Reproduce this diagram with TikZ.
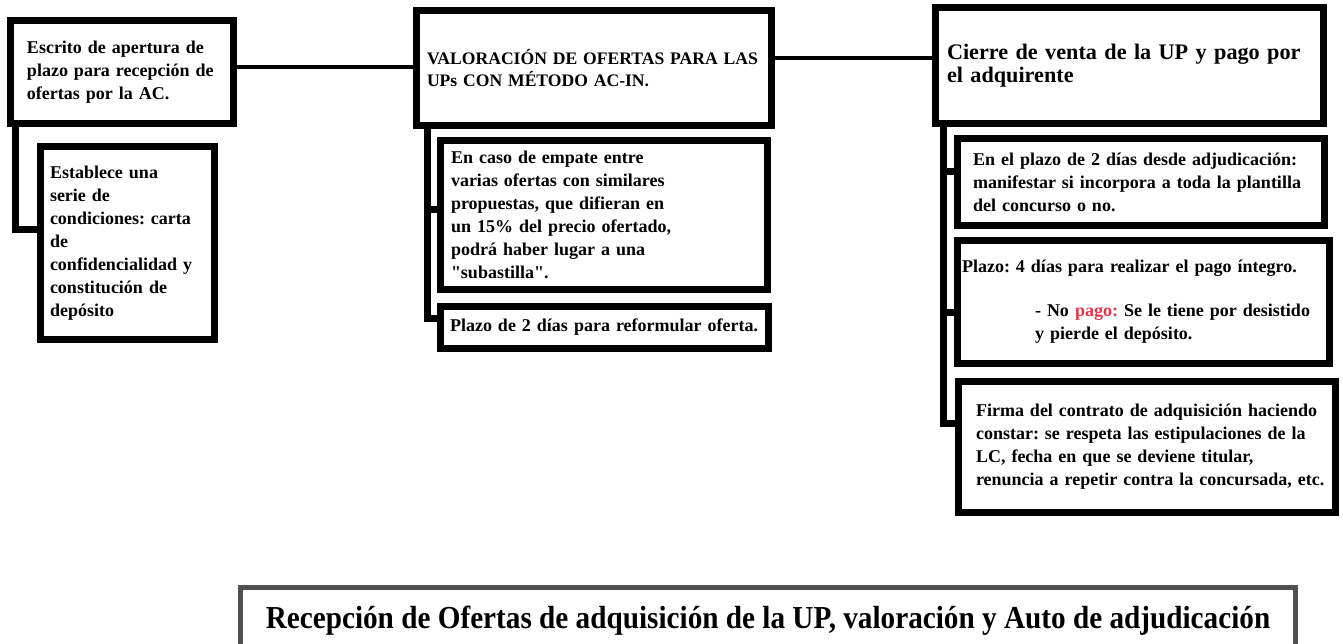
\documentclass[tikz,border=0pt]{standalone}
\usepackage{xcolor}
\usepackage{fontspec}
\setmainfont{Liberation Serif}[Ligatures=TeXOff]
\usepackage{tikz}
\usetikzlibrary{positioning, calc}
\frenchspacing
\definecolor{pagored}{RGB}{236,52,72}
\definecolor{framegray}{RGB}{80,80,80}
\newcommand{\bodyfont}{\fontsize{18}{23}\selectfont\bfseries}
\newcommand{\capsfont}{\fontsize{17.6}{22}\selectfont\bfseries}
\newcommand{\headfont}{\fontsize{22.2}{22.5}\selectfont\bfseries}
\newcommand{\titlefont}{\fontsize{32}{36}\selectfont\bfseries}
\tikzset{box/.style={draw=black, line width=7pt, outer sep=0pt, fill=white,
  align=left, font=\bodyfont, inner ysep=0pt}}
\tikzset{headbox/.style={box, font=\headfont}}
\tikzset{branch/.style={draw=black, line width=7pt}}
\tikzset{link/.style={draw=black, line width=4pt}}

\begin{document}
\begin{tikzpicture}[x=1pt, y=-1pt]
  \useasboundingbox (0,0) rectangle (1343,644);
  \clip (0,0) rectangle (1343,644);
  %Nodes
  \node[box, anchor=north west, minimum width=223pt, minimum height=103pt,
    inner xsep=16.5pt, text width=190pt] (esc) at (10.5,20.5)
    {Escrito de apertura de\\plazo para recepción de\\ofertas por la AC.};
  \node[box, minimum width=174pt, minimum height=193pt, inner xsep=9.5pt,
    text width=155pt] (est) [below right=23pt and 30pt of esc.south west]
    {Establece una\\serie de\\condiciones: carta\\de\\confidencialidad y\\constitución de\\depósito};
  \node[box, font=\capsfont, anchor=north west, minimum width=355pt,
    minimum height=115pt, inner xsep=10.5pt, text width=334pt] (val) at (416.5,10.5)
    {VALORACIÓN DE OFERTAS PARA LAS\\UPs CON MÉTODO AC-IN.};
  \node[box, minimum width=327pt, minimum height=149pt, inner xsep=10.5pt,
    text width=306pt] (caso) [below right=15pt and 24pt of val.south west]
    {En caso de empate entre\\varias ofertas con similares\\propuestas, que difieran en\\un 15\% del precio ofertado,\\podrá haber lugar a una\\"subastilla".};
  \node[box, minimum width=328pt, minimum height=42pt, inner xsep=9.5pt,
    text width=309pt] (plazodos) [below right=17pt and 0pt of caso.south west]
    {Plazo de 2 días para reformular oferta.};
  \node[headbox, anchor=north west, minimum width=388pt, minimum height=116pt,
    inner xsep=11.5pt, text width=365pt] (cierre) at (935.5,7.5)
    {Cierre de venta de la UP y pago por\\el adquirente};
  \node[box, minimum width=367pt, minimum height=87pt, inner xsep=15.5pt,
    text width=336pt] (adj) [below right=15pt and 22pt of cierre.south west]
    {En el plazo de 2 días desde adjudicación:\\manifestar si incorpora a toda la plantilla\\del concurso o no.};
  \node[box, minimum width=372pt, minimum height=123pt, inner xsep=4.5pt,
    text width=363pt] (pago) [below right=15pt and 0pt of adj.south west]
    {Plazo: 4 días para realizar el pago íntegro.\\[21pt]
     \hspace*{73pt}- No \textcolor{pagored}{pago:} Se le tiene por desistido\\
     \hspace*{73pt}y pierde el depósito.};
  \node[box, minimum width=377pt, minimum height=131pt, inner xsep=17.5pt,
    text width=342pt] (firma) [below right=18pt and 1pt of pago.south west]
    {Firma del contrato de adquisición haciendo\\constar: se respeta las estipulaciones de la\\LC, fecha en que se deviene titular,\\\mbox{renuncia a repetir contra la concursada, etc.}};
  \node[draw=framegray, line width=5pt, outer sep=0pt, anchor=north,
    minimum width=1055pt, minimum height=67pt, font=\titlefont,
    text height=21pt, text depth=7pt] (recep) at (768,587.5)
    {\scalebox{0.913}[1]{Recepción de Ofertas de adquisición de la UP, valoración y Auto de adjudicación}};
  % Edges
  \draw[link] ([yshift=5pt]esc.east) -- ([yshift=5pt]esc.east -| val.west);
  \draw[link] ([yshift=10pt]val.east) -- ([yshift=10pt]val.east -| cierre.west);
  \draw[branch] ([xshift=4.5pt]esc.south west) |- ([yshift=13pt]est.west);
  \draw[branch] ([xshift=10.5pt]val.south west) |- ([yshift=5pt]caso.west);
  \draw[branch] ([xshift=10.5pt]val.south west) |- ([yshift=9.5pt]plazodos.west);
  \draw[branch] ([xshift=7.5pt]cierre.south west) |- ([yshift=10pt]adj.west);
  \draw[branch] ([xshift=7.5pt]cierre.south west) |- ([yshift=-10pt]pago.west);
  \draw[branch] ([xshift=7.5pt]cierre.south west) |- ([yshift=24pt]firma.west);
\end{tikzpicture}
\end{document}
